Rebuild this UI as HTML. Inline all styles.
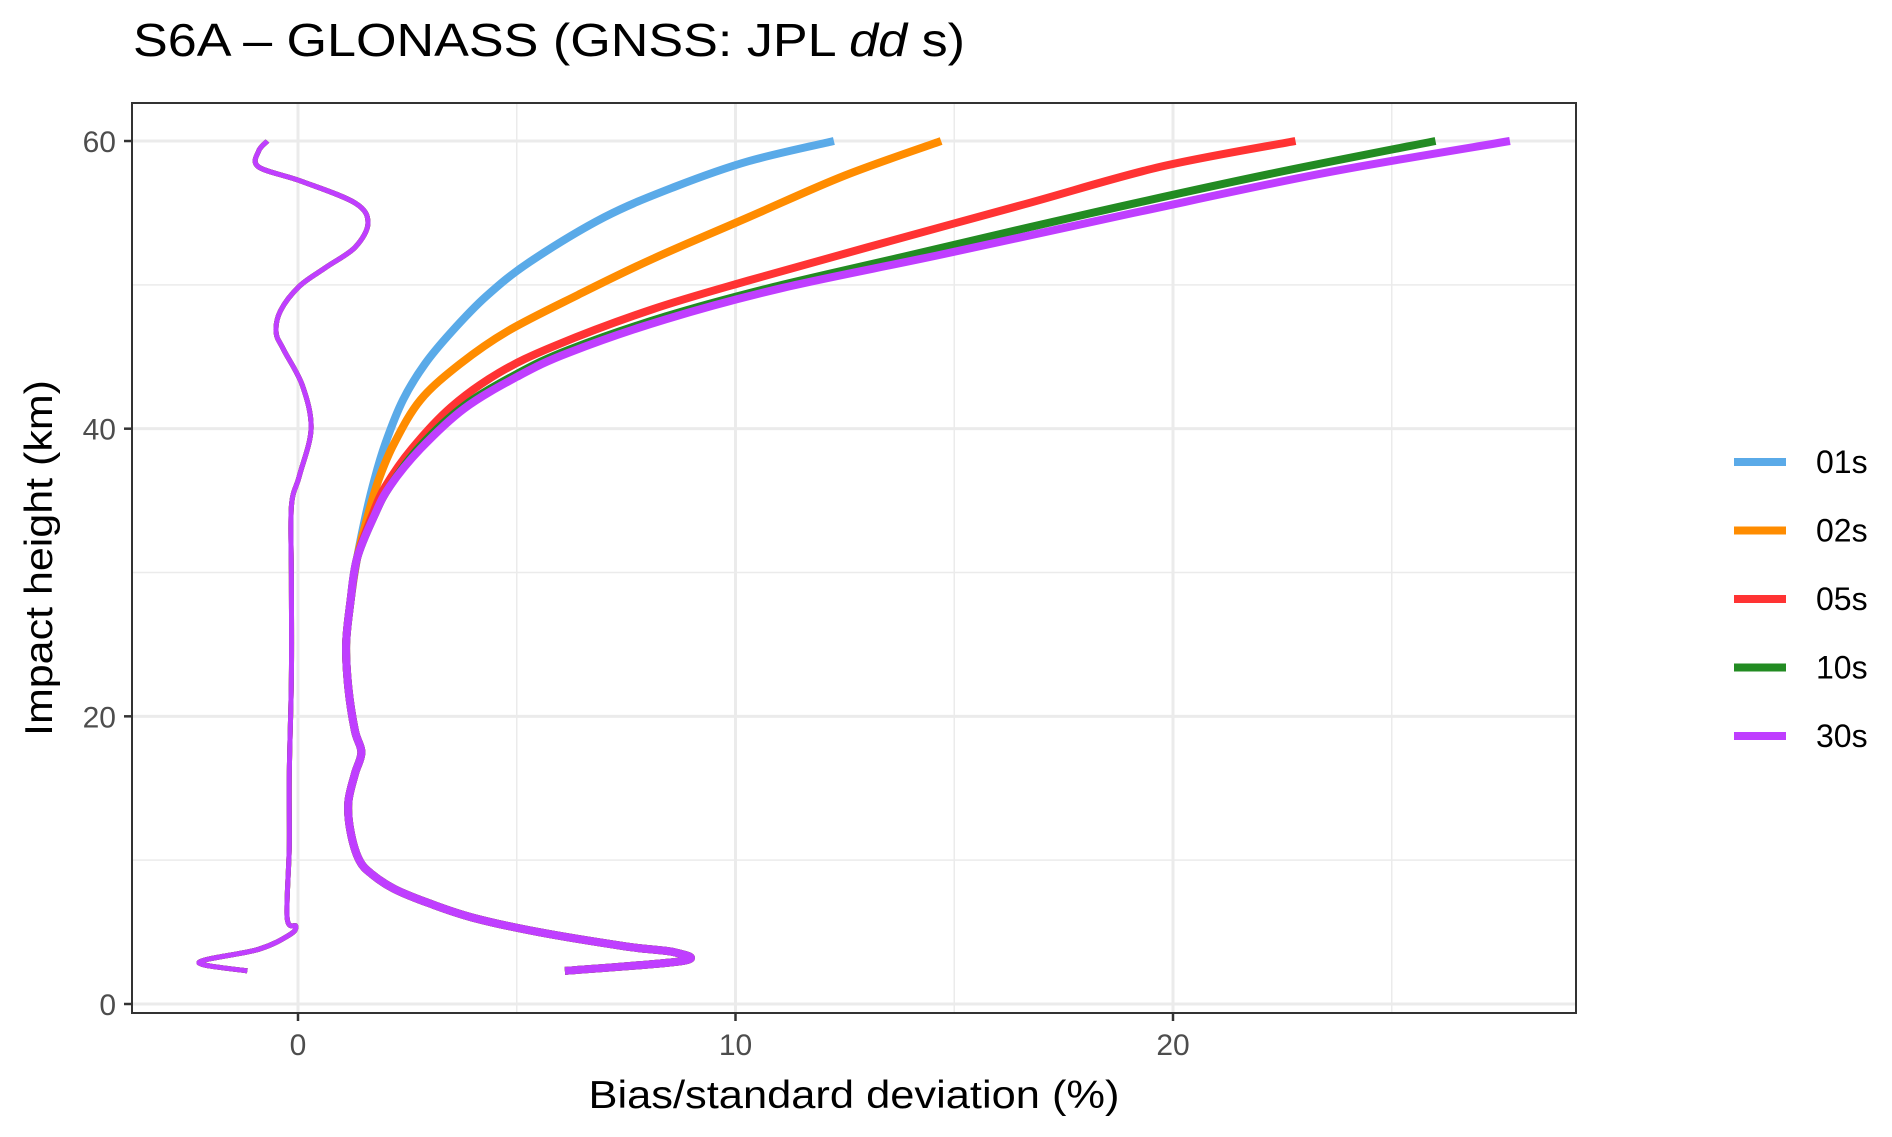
<!DOCTYPE html>
<html><head><meta charset="utf-8"><style>
body{margin:0;background:#fff;}
svg{display:block;font-family:"Liberation Sans",Arial,sans-serif;}
</style></head><body>
<svg id="chart" width="1892" height="1137" viewBox="0 0 1892 1137" xmlns="http://www.w3.org/2000/svg">
<text x="133" y="56" font-size="46" textLength="832" lengthAdjust="spacingAndGlyphs" fill="#000">S6A – GLONASS (GNSS: JPL <tspan font-style="italic">dd</tspan> s)</text>
<rect x="132" y="103" width="1444" height="910" fill="#fff"/>
<g id="grid"></g>
<g id="series"></g>
<rect x="132" y="103" width="1444" height="910" fill="none" stroke="#333" stroke-width="2"/>
<g id="axes"></g>
<text x="854" y="1108" font-size="39" textLength="531" lengthAdjust="spacingAndGlyphs" text-anchor="middle" fill="#000">Bias/standard deviation (%)</text>
<text transform="translate(52,558) rotate(-90)" font-size="39" textLength="356" lengthAdjust="spacingAndGlyphs" text-anchor="middle" fill="#000">Impact height (km)</text>
<g id="legend"></g>
</svg>
<script>
const xTicks=[0,10,20];
const yTicks=[0,20,40,60];
const seriesNames=["01s","02s","05s","10s","30s"];
const seriesColors=["#5aaae8","#ff8c00","#ff3333","#228b22","#bf3eff"];
const stdLow=[[6.1,2.3],[8.8,3.0],[8.6,3.6],[7.5,4.0],[5.5,5.0],[4.0,6.0],[3.0,7.0],[2.2,8.0],[1.7,9.0],[1.4,10],[1.2,12],[1.15,14],[1.3,16],[1.45,17.5],[1.3,19],[1.15,22],[1.1,25],[1.2,28],[1.35,31]];
const std01=[[1.55,34],[1.75,36.5],[2.0,39],[2.4,42],[2.9,44.5],[3.5,46.7],[4.3,49.2],[5.3,51.6],[7.0,54.7],[8.6,56.8],[10.3,58.6],[12.25,60]];
const std02=[[1.6,34],[1.85,36.5],[2.2,39],[2.8,42],[3.7,44.5],[4.8,46.8],[6.4,49.3],[8.1,51.8],[10.3,54.7],[12.5,57.6],[14.7,60]];
const std05=[[1.7,34],[2.0,36],[2.6,38.6],[3.5,41.5],[4.6,43.9],[5.9,45.8],[8.1,48.3],[10.3,50.3],[13.0,52.6],[16.6,55.6],[19.7,58.2],[22.8,60]];
const std10=[[1.75,34],[2.1,36],[2.8,38.8],[3.8,41.6],[5.0,43.8],[6.2,45.5],[8.4,47.8],[10.8,49.8],[13.9,52.0],[18.0,54.9],[22.2,57.7],[26.0,60]];
const std30=[[1.75,34],[2.1,36],[2.8,38.6],[3.8,41.4],[5.0,43.6],[6.2,45.3],[8.4,47.6],[11.1,49.8],[14.7,52.1],[19.1,55.0],[23.5,57.8],[27.7,60]];
const bias=[[-1.16,2.3],[-2.26,2.9],[-0.9,3.8],[-0.2,4.8],[-0.05,5.4],[-0.25,6],[-0.2,11],[-0.2,16],[-0.15,22.8],[-0.15,29.5],[-0.15,34.6],[0.03,36.7],[0.3,40],[0.1,43],[-0.33,45.5],[-0.5,46.7],[-0.4,48.2],[0.03,49.9],[0.63,51.2],[1.3,52.6],[1.6,54.3],[1.3,55.7],[0.08,57.2],[-0.9,58.2],[-0.9,59.3],[-0.7,60]];
const stdUpper=[std01,std02,std05,std10,std30];

const NS="http://www.w3.org/2000/svg";
function X(v){return 298+v*43.75;}
function Y(v){return 1004-v*14.383;}
function mk(tag,attrs,parent){const e=document.createElementNS(NS,tag);for(const k in attrs)e.setAttribute(k,attrs[k]);parent.appendChild(e);return e;}
const grid=document.getElementById('grid'),axes=document.getElementById('axes'),ser=document.getElementById('series'),leg=document.getElementById('legend');
for(let i=0;i<xTicks.length;i++){const m=xTicks[i]+5;const l=mk('line',{x1:X(m),x2:X(m),y1:103,y2:1013,stroke:'#ebebeb','stroke-width':1.5},grid);}
for(let i=0;i<yTicks.length-1;i++){const m=yTicks[i]+10;const l=mk('line',{x1:132,x2:1576,y1:Y(m),y2:Y(m),stroke:'#ebebeb','stroke-width':1.5},grid);}
xTicks.forEach(t=>{const l=mk('line',{x1:X(t),x2:X(t),y1:103,y2:1013,stroke:'#ebebeb','stroke-width':3},grid);
const k=mk('line',{x1:X(t),x2:X(t),y1:1013,y2:1021,stroke:'#333','stroke-width':2.5},axes);
const tx=mk('text',{x:X(t),y:1055,'font-size':30,fill:'#4d4d4d','text-anchor':'middle'},axes);tx.textContent=t;});
yTicks.forEach(t=>{const l=mk('line',{x1:132,x2:1576,y1:Y(t),y2:Y(t),stroke:'#ebebeb','stroke-width':3},grid);
const k=mk('line',{x1:124,x2:132,y1:Y(t),y2:Y(t),stroke:'#333','stroke-width':2.5},axes);
const tx=mk('text',{x:116,y:Y(t)+11,'font-size':30,fill:'#4d4d4d','text-anchor':'end'},axes);tx.textContent=t;});
function path(a){const p=a.map(q=>[X(q[0]),Y(q[1])]);let d='M'+p[0][0].toFixed(1)+','+p[0][1].toFixed(1);
for(let i=0;i<p.length-1;i++){const p0=p[Math.max(0,i-1)],p1=p[i],p2=p[i+1],p3=p[Math.min(p.length-1,i+2)];
const c1=[p1[0]+(p2[0]-p0[0])/6,p1[1]+(p2[1]-p0[1])/6],c2=[p2[0]-(p3[0]-p1[0])/6,p2[1]-(p3[1]-p1[1])/6];
d+=' C'+c1[0].toFixed(1)+','+c1[1].toFixed(1)+' '+c2[0].toFixed(1)+','+c2[1].toFixed(1)+' '+p2[0].toFixed(1)+','+p2[1].toFixed(1);}
return d;}
seriesNames.forEach((n,i)=>{
const b=mk('path',{d:path(bias),fill:'none',stroke:seriesColors[i],'stroke-width':5,'stroke-linejoin':'round'},ser);

const s=mk('path',{d:path(stdLow.concat(stdUpper[i])),fill:'none',stroke:seriesColors[i],'stroke-width':8,'stroke-linejoin':'round'},ser);

const ly=462+i*68.5;
const ll=mk('line',{x1:1734,x2:1786,y1:ly,y2:ly,stroke:seriesColors[i],'stroke-width':8},leg);

const lt=mk('text',{x:1816,y:ly+11,'font-size':32,fill:'#000'},leg);lt.textContent=n;

});
</script>
</body></html>
